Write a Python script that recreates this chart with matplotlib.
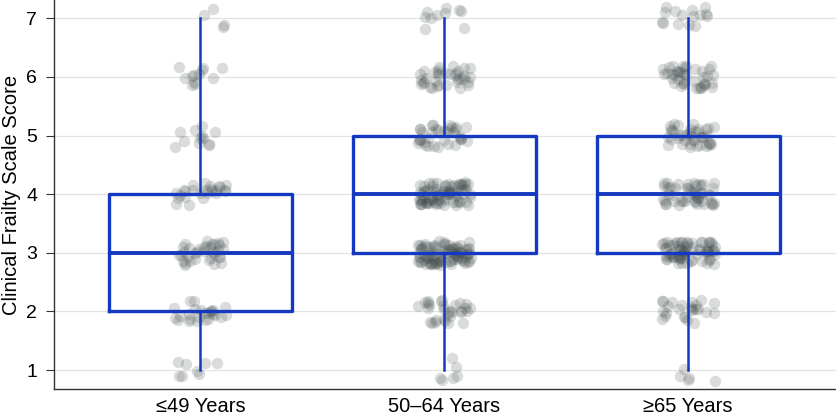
import numpy as np
import matplotlib
matplotlib.use("Agg")
import matplotlib.pyplot as plt

plt.rcParams["font.family"] = ["Liberation Sans", "DejaVu Sans"]

groups = ["≤49 Years", "50–64 Years", "≥65 Years"]
scores = [1, 2, 3, 4, 5, 6, 7]
# number of patients at each frailty score, per age group
counts_49 = [8, 25, 35, 25, 12, 12, 4]
counts_50_64 = [6, 30, 90, 80, 35, 35, 10]
counts_65 = [5, 25, 70, 50, 40, 40, 15]

blue = "#1538c0"
dots = "#3f4a4a"

data = [np.repeat(scores, c) for c in (counts_49, counts_50_64, counts_65)]

fig = plt.figure(figsize=(8.37, 4.2), dpi=100)
ax = fig.add_axes([0.0645, 0.074, 0.9355, 0.926])

# jittered points (jitter only for display)
rng = np.random.default_rng(3)
for i, vals in enumerate(data):
    xj = (i + 1) + rng.uniform(-0.11, 0.11, len(vals))
    yj = vals + rng.uniform(-0.2, 0.2, len(vals))
    ax.scatter(xj, yj, s=68, color=dots, alpha=0.19, linewidths=0, zorder=2)

ax.boxplot(
    data,
    positions=[1, 2, 3],
    widths=0.75,
    showfliers=False,
    showcaps=False,
    whis=(0, 100),
    boxprops=dict(color=blue, linewidth=2.4),
    whiskerprops=dict(color=blue, linewidth=1.8),
    medianprops=dict(color=blue, linewidth=2.8),
    zorder=3,
)

ax.set_xlim(0.4, 3.61)
ax.set_ylim(0.68, 7.31)
ax.set_yticks(scores)
ax.set_xticks([1, 2, 3])
ax.set_xticklabels(groups, fontsize=14.5)
ax.tick_params(axis="y", labelsize=14, length=6, color="#333333", pad=6)
ax.tick_params(axis="x", length=0, pad=6)
ax.set_ylabel("Clinical Frailty Scale Score", fontsize=14.5, va="center")
ax.yaxis.set_label_coords(-0.0545, 0.5)
ax.yaxis.grid(True, color="#e3e3e3", linewidth=0.9, zorder=0)
ax.set_axisbelow(True)
for side in ["top", "right"]:
    ax.spines[side].set_visible(False)
for side in ["left", "bottom"]:
    ax.spines[side].set_color("#333333")
    ax.spines[side].set_linewidth(1.0)

fig.savefig("out.png", dpi=100)
